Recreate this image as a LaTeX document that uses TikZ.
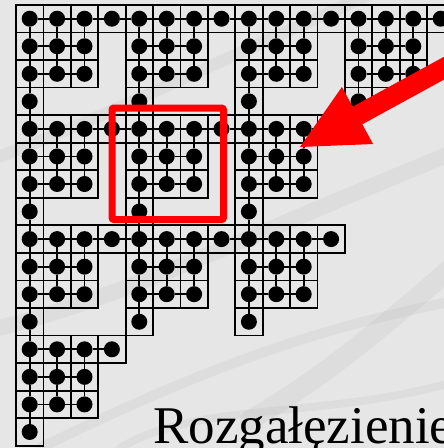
\documentclass[tikz,border=0pt]{standalone}
\usepackage{fontspec}
\setmainfont{Liberation Serif}
\usetikzlibrary{calc}
\definecolor{marble}{RGB}{230,230,230}
\definecolor{vein}{RGB}{150,150,150}
\begin{document}
\begin{tikzpicture}[x=1pt,y=-1pt,
  cellbox/.style={rectangle,draw=black,line width=1.8pt,minimum width=27.4pt,minimum height=27.55pt,inner sep=0pt,outer sep=0pt},
  dot/.style={circle,fill=black,minimum size=16pt,inner sep=0pt,outer sep=0pt},
  bond/.style={draw=black,line width=1.8pt},
  hilite/.style={rectangle,draw=red,line width=7pt,rounded corners=2pt,minimum width=111.5pt,minimum height=111.5pt,inner sep=0pt},
  veinline/.style={draw=vein,opacity=0.10,line cap=round},
  lbltext/.style={anchor=base west,inner sep=0pt,font=\fontsize{53}{60}\selectfont}]
\useasboundingbox (0,0) rectangle (444,448);
\fill[marble] (0,0) rectangle (444,448);
\clip (0,0) rectangle (444,448);
% marble veins
\draw[veinline,line width=16pt] (-10,330) .. controls (120,300) and (260,230) .. (460,150);
\draw[veinline,line width=10pt] (40,448) .. controls (180,380) and (300,330) .. (460,300);
\draw[veinline,line width=12pt] (-10,160) .. controls (100,120) and (220,60) .. (380,-10);
\draw[veinline,line width=20pt] (250,420) .. controls (320,380) and (380,330) .. (460,260);
\draw[veinline,line width=8pt] (120,448) .. controls (200,400) and (330,420) .. (460,380);
% patterns
\def\pat{0/0,1/0,2/0,3/0,0/1,1/1,2/1,0/2,1/2,2/2,0/3}
\def\hb{0/0,1/0,2/0,0/1,1/1,0/2,1/2}
\def\vb{0/0,0/1,0/2,1/0,1/1,2/0,2/1}
% cells and dots
\foreach \A/\B in \pat {
  \foreach \a/\b in \pat {
    \pgfmathtruncatemacro{\i}{4*\A+\a}
    \pgfmathtruncatemacro{\j}{4*\B+\b}
    \node[cellbox] (c-\i-\j) at ({29.7+27.4*\i},{18.7+27.55*\j}) {};
    \node[dot] (d-\i-\j) at (c-\i-\j.center) {};
  }
}
% bonds inside blocks
\foreach \A/\B in \pat {
  \foreach \a/\b in \hb {
    \pgfmathtruncatemacro{\i}{4*\A+\a}
    \pgfmathtruncatemacro{\k}{\i+1}
    \pgfmathtruncatemacro{\j}{4*\B+\b}
    \draw[bond] (d-\i-\j) -- (d-\k-\j);
  }
  \foreach \a/\b in \vb {
    \pgfmathtruncatemacro{\i}{4*\A+\a}
    \pgfmathtruncatemacro{\j}{4*\B+\b}
    \pgfmathtruncatemacro{\l}{\j+1}
    \draw[bond] (d-\i-\j) -- (d-\i-\l);
  }
}
% bonds between blocks
\foreach \A/\B in \hb {
  \pgfmathtruncatemacro{\i}{4*\A+3}
  \pgfmathtruncatemacro{\k}{4*\A+4}
  \pgfmathtruncatemacro{\j}{4*\B}
  \draw[bond] (d-\i-\j) -- (d-\k-\j);
}
\foreach \A/\B in \vb {
  \pgfmathtruncatemacro{\i}{4*\A}
  \pgfmathtruncatemacro{\j}{4*\B+3}
  \pgfmathtruncatemacro{\l}{4*\B+4}
  \draw[bond] (d-\i-\j) -- (d-\i-\l);
}
% highlight
\node[hilite] (hl) at (167.75,163.75) {};
% arrow
\coordinate (tip) at (300,147);
\coordinate (b1) at (341.9,87);
\coordinate (b2) at (373.1,144);
\coordinate (s1) at (352.7,106.7);
\coordinate (s2) at (362.3,124.3);
\coordinate (e1) at (484.3,34.7);
\coordinate (e2) at (493.9,52.3);
\fill[red] (tip) -- (b1) -- (s1) -- (e1) -- (e2) -- (s2) -- (b2) -- cycle;
% label
\node[lbltext] (lbl) at (153,443) {Rozgałęzienie};
\end{tikzpicture}
\end{document}
